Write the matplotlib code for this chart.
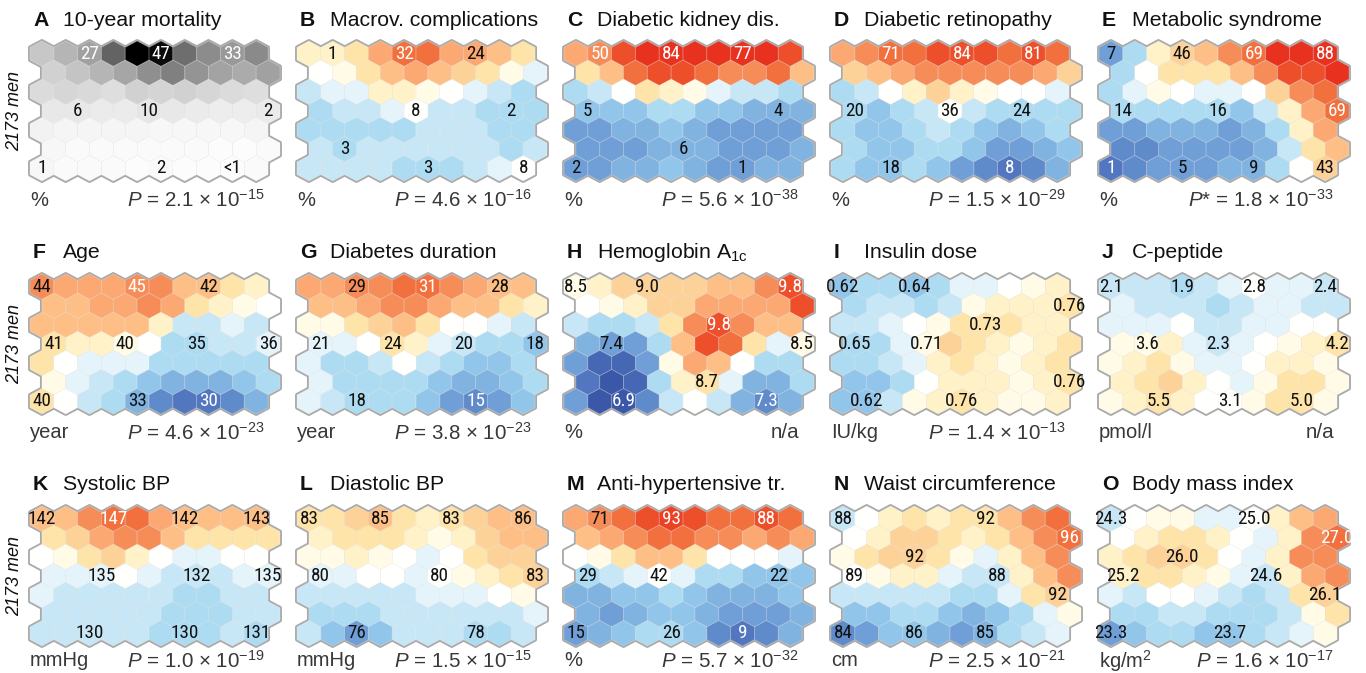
import numpy as np
import matplotlib
matplotlib.use("Agg")
import matplotlib.pyplot as plt
from matplotlib.collections import PolyCollection
from matplotlib.colors import LinearSegmentedColormap

# colour levels read per map node: 7 rows x 10 columns, odd rows shifted right
# -10 = deep blue, 0 = white, +10 = red ; mortality is grey 0 (white) .. 10 (black)
mortality = [
    [2.2, 2.9, 3.7, 6.1, 10, 9.6, 5.7, 4.5, 4.0, 4.6],
    [1.8, 2.3, 2.9, 3.5, 4.4, 5.0, 4.2, 3.6, 3.3, 3.7],
    [1.4, 1.6, 1.5, 1.3, 1.8, 1.7, 1.8, 1.6, 1.4, 1.3],
    [0.9, 0.9, 0.8, 0.8, 1.0, 0.9, 0.8, 0.7, 0.7, 0.8],
    [0.5, 0.4, 0.4, 0.4, 0.4, 0.3, 0.3, 0.3, 0.3, 0.4],
    [0.3, 0.2, 0.2, 0.2, 0.2, 0.2, 0.2, 0.1, 0.1, 0.2],
    [0.3, 0.2, 0.2, 0.2, 0.1, 0.2, 0.1, 0.1, 0.1, 0.2],
]
macrov = [
    [2, 2, 3, 6, 8, 8, 6, 6, 5, 3],
    [0, 1, 3, 5, 6, 5, 4, 3, 1, -1],
    [-2, -1, -1, 2, 2, 1, 0, -1, -2, -3],
    [-3, -2, -2, -1, 0, -2, -2, -3, -3, -3],
    [-3, -3, -3, -3, -3, -2, -2, -2, -3, -3],
    [-2, -3, -2, -2, -2, -2, -2, -2, -3, -2],
    [-2, -2, -2, -2, -3, -3, -3, -2, -1, 0],
]
kidney = [
    [6, 7, 9, 10, 10, 10, 10, 10, 10, 9],
    [3, 5, 8, 9, 9, 8, 7, 7, 8, 5],
    [-3, -2, 0, 3, 2, 1, -1, -2, -2, -3],
    [-4, -4, -4, -3, -3, -4, -4, -5, -5, -5],
    [-6, -6, -5, -5, -4, -5, -6, -6, -6, -6],
    [-6, -6, -6, -5, -5, -5, -6, -6, -6, -5],
    [-6, -6, -5, -5, -4, -5, -6, -6, -5, -5],
]
retino = [
    [6, 7, 8, 8, 9, 9, 9, 8, 9, 8],
    [4, 5, 6, 7, 7, 7, 7, 7, 6, 4],
    [-3, -2, 0, 2, 4, 2, 1, 0, 0, -1],
    [-3, -4, -3, -2, 0, -2, -3, -3, -3, -3],
    [-3, -4, -4, -3, -2, -3, -4, -5, -4, -3],
    [-3, -4, -4, -3, -3, -4, -6, -6, -5, -4],
    [-3, -4, -4, -3, -4, -6, -7, -8, -7, -5],
]
metsyn = [
    [-6, -3, 2, 4, 5, 7, 8, 10, 10, 10],
    [-3, 0, 3, 3, 3, 5, 7, 9, 9, 10],
    [-3, -1, 1, 0, -1, -1, 0, 4, 7, 8],
    [-3, -3, -3, -3, -3, -4, -2, 2, 6, 8],
    [-6, -6, -5, -5, -5, -6, -5, -3, 2, 6],
    [-7, -7, -6, -6, -6, -6, -5, -2, 3, 5],
    [-8, -7, -6, -6, -6, -5, -5, -3, 0, 4],
]
age = [
    [7, 6, 6, 6, 7, 7, 5, 5, 3, 2],
    [5, 5, 6, 6, 7, 6, 3, 2, 1, 0],
    [5, 5, 5, 5, 5, 2, -2, -2, -1, -2],
    [3, 2, 2, 1, 0, -3, -3, -2, -2, -1],
    [3, 0, -1, -1, -1, -3, -3, -3, -3, -3],
    [1, -1, -2, -3, -4, -5, -5, -5, -4, -3],
    [3, 0, -2, -3, -5, -7, -8, -8, -7, -5],
]
duration = [
    [6, 6, 7, 7, 8, 8, 7, 6, 5, 5],
    [5, 5, 6, 7, 7, 6, 5, 5, 3, 2],
    [1, 1, 3, 4, 5, 3, 0, 0, -1, -2],
    [-1, -1, 0, 3, 2, -1, -2, -3, -3, -4],
    [-1, -3, -3, -2, 0, -2, -3, -4, -4, -3],
    [-1, -3, -3, -3, -3, -4, -5, -5, -4, -3],
    [-1, -2, -3, -3, -3, -4, -6, -7, -6, -4],
]
hba1c = [
    [1, 2, 4, 4, 4, 4, 5, 5, 7, 9],
    [0, 1, 2, 4, 4, 6, 6, 6, 6, 9],
    [-2, -3, -3, -2, 3, 7, 9, 7, 5, 5],
    [-5, -6, -6, -3, 5, 9, 8, 3, -1, 1],
    [-6, -9, -9, -6, 1, 6, 5, 0, -3, -3],
    [-8, -10, -9, -3, 2, 3, -1, -5, -5, -3],
    [-6, -10, -10, -7, -2, 0, -2, -5, -7, -5],
]
insulin = [
    [-4, -3, -3, -4, -3, -1, -1, 0, 1, 2],
    [-3, -2, -2, -3, -2, 1, 2, 2, 2, 3],
    [-2, -2, -1, 0, 1, 3, 3, 3, 2, 2],
    [-3, -3, -1, 1, 4, 3, 2, 1, 2, 3],
    [-3, -3, -2, -1, 2, 3, 2, 1, 2, 3],
    [-4, -4, -3, 0, 2, 2, 2, 1, 2, 3],
    [-4, -4, -2, 1, 2, 3, 2, 1, 1, 2],
]
cpeptide = [
    [-2, -2, -2, -3, -2, -1, 0, -1, -1, -2],
    [-1, -2, -2, -2, -3, -2, -1, -1, -2, -2],
    [-1, -1, -1, 0, -2, -2, -1, -1, 0, 0],
    [1, 1, 2, -1, -2, -1, 0, 1, 2, 3],
    [1, 2, 3, 1, -1, -1, 0, 2, 2, 1],
    [2, 3, 4, 2, 0, -1, 1, 3, 3, 1],
    [1, 2, 3, 2, 0, 0, 1, 3, 3, 1],
]
sbp = [
    [5, 5, 7, 8, 8, 6, 5, 5, 5, 5],
    [3, 4, 6, 7, 7, 5, 3, 3, 3, 3],
    [0, 1, 3, 4, 2, 0, -1, -1, 0, 0],
    [-1, -1, -1, 0, -1, -2, -2, -2, -1, -1],
    [-1, -2, -2, -2, -2, -2, -3, -3, -2, -2],
    [-2, -2, -2, -2, -2, -3, -3, -3, -2, -2],
    [-2, -2, -2, -2, -2, -3, -3, -3, -2, -3],
]
dbp = [
    [3, 3, 4, 5, 3, 2, 3, 4, 5, 5],
    [2, 3, 3, 3, 2, 1, 2, 4, 5, 5],
    [1, 1, 2, 1, 0, -1, 0, 3, 4, 4],
    [-1, -1, 0, 0, -1, 0, 1, 2, 3, 4],
    [-2, -2, -2, -2, -2, -1, -1, -1, 0, 1],
    [-3, -3, -3, -2, -2, -2, -2, -2, -2, -1],
    [-2, -4, -6, -4, -2, -2, -2, -3, -3, -2],
]
antihyp = [
    [6, 7, 8, 9, 9.5, 9, 8, 8, 9, 8],
    [5, 6, 7, 8, 8, 7, 7, 6, 7, 6],
    [0, 1, 3, 5, 5, 3, 0, 0, 0, -1],
    [-3, -2, -1, 0, -1, -3, -3, -4, -4, -4],
    [-5, -5, -4, -4, -3, -4, -5, -5, -5, -4],
    [-5, -6, -5, -4, -4, -5, -6, -6, -6, -5],
    [-6, -5, -4, -3, -3, -4, -7, -8, -7, -5],
]
waist = [
    [-2, 0, 2, 3, 2, 3, 3, 5, 7, 8],
    [0, 2, 4, 4, 3, 2, 3, 5, 7, 8],
    [1, 3, 4, 4, 3, 1, -1, 2, 5, 7],
    [0, 1, 2, 2, -1, -2, -2, 2, 5, 7],
    [-2, -2, -2, -2, -2, -3, -3, -1, 3, 4],
    [-4, -4, -3, -3, -4, -5, -4, -3, -1, 1],
    [-7, -6, -4, -4, -5, -6, -5, -3, -2, -1],
]
bmi = [
    [-2, 0, 1, 1, -1, -1, 0, 2, 5, 6],
    [0, 2, 3, 3, 2, 0, -1, 2, 7, 8],
    [2, 3, 4, 4, 3, 0, -1, 2, 7, 7],
    [2, 3, 3, 2, 1, -1, -2, 2, 6, 7],
    [-1, -2, 0, 0, -1, -2, -3, -2, 3, 4],
    [-3, -3, -2, -2, -3, -3, -3, -2, 1, 3],
    [-6, -4, -3, -3, -4, -4, -3, -2, -1, 1],
]

letters = list("ABCDEFGHIJKLMNO")
titles = ["10-year mortality", "Macrov. complications", "Diabetic kidney dis.",
          "Diabetic retinopathy", "Metabolic syndrome", "Age", "Diabetes duration",
          r"Hemoglobin A$_{\rm 1c}$", "Insulin dose", "C-peptide", "Systolic BP",
          "Diastolic BP", "Anti-hypertensive tr.", "Waist circumference",
          "Body mass index"]
units = ["%", "%", "%", "%", "%", "year", "year", "%", "IU/kg", "pmol/l",
         "mmHg", "mmHg", "%", "cm", r"kg/m$^2$"]
pvalues = [r"$P$ = 2.1 × 10$^{-15}$", r"$P$ = 4.6 × 10$^{-16}$", r"$P$ = 5.6 × 10$^{-38}$",
           r"$P$ = 1.5 × 10$^{-29}$", r"$P$* = 1.8 × 10$^{-33}$", r"$P$ = 4.6 × 10$^{-23}$",
           r"$P$ = 3.8 × 10$^{-23}$", "n/a", r"$P$ = 1.4 × 10$^{-13}$", "n/a",
           r"$P$ = 1.0 × 10$^{-19}$", r"$P$ = 1.5 × 10$^{-15}$", r"$P$ = 5.7 × 10$^{-32}$",
           r"$P$ = 2.5 × 10$^{-21}$", r"$P$ = 1.6 × 10$^{-17}$"]
grids = [mortality, macrov, kidney, retino, metsyn, age, duration, hba1c,
         insulin, cpeptide, sbp, dbp, antihyp, waist, bmi]

# node labels: (row, col, text, white text)
labels = [
    [(0, 2, "27", 1), (0, 5, "47", 1), (0, 8, "33", 1), (3, 1, "6", 0), (3, 4, "10", 0),
     (3, 9, "2", 0), (6, 0, "1", 0), (6, 5, "2", 0), (6, 8, "<1", 0)],
    [(0, 1, "1", 0), (0, 4, "32", 1), (0, 7, "24", 0), (3, 4, "8", 0), (3, 8, "2", 0),
     (5, 1, "3", 0), (6, 5, "3", 0), (6, 9, "8", 0)],
    [(0, 1, "50", 1), (0, 4, "84", 1), (0, 7, "77", 1), (3, 0, "5", 0), (3, 8, "4", 0),
     (5, 4, "6", 0), (6, 0, "2", 0), (6, 7, "1", 0)],
    [(0, 2, "71", 1), (0, 5, "84", 1), (0, 8, "81", 1), (3, 0, "20", 0), (3, 4, "36", 0),
     (3, 7, "24", 0), (6, 2, "18", 0), (6, 7, "8", 1)],
    [(0, 0, "7", 0), (0, 3, "46", 0), (0, 6, "69", 1), (0, 9, "88", 1), (3, 0, "14", 0),
     (3, 4, "16", 0), (3, 9, "69", 1), (6, 0, "1", 1), (6, 3, "5", 0), (6, 6, "9", 0),
     (6, 9, "43", 0)],
    [(0, 0, "44", 0), (0, 4, "45", 1), (0, 7, "42", 0), (3, 0, "41", 0), (3, 3, "40", 0),
     (3, 6, "35", 0), (3, 9, "36", 0), (6, 0, "40", 0), (6, 4, "33", 0), (6, 7, "30", 1)],
    [(0, 2, "29", 0), (0, 5, "31", 1), (0, 8, "28", 0), (3, 0, "21", 0), (3, 3, "24", 0),
     (3, 6, "20", 0), (3, 9, "18", 0), (6, 2, "18", 0), (6, 7, "15", 1)],
    [(0, 0, "8.5", 0), (0, 3, "9.0", 0), (0, 9, "9.8", 1), (2, 6, "9.8", 1), (3, 1, "7.4", 0),
     (3, 9, "8.5", 0), (5, 5, "8.7", 0), (6, 2, "6.9", 1), (6, 8, "7.3", 1)],
    [(0, 0, "0.62", 0), (0, 3, "0.64", 0), (1, 9, "0.76", 0), (2, 6, "0.73", 0),
     (3, 0, "0.65", 0), (3, 3, "0.71", 0), (5, 9, "0.76", 0), (6, 1, "0.62", 0),
     (6, 5, "0.76", 0)],
    [(0, 0, "2.1", 0), (0, 3, "1.9", 0), (0, 6, "2.8", 0), (0, 9, "2.4", 0), (3, 1, "3.6", 0),
     (3, 4, "2.3", 0), (3, 9, "4.2", 0), (6, 2, "5.5", 0), (6, 5, "3.1", 0), (6, 8, "5.0", 0)],
    [(0, 0, "142", 0), (0, 3, "147", 1), (0, 6, "142", 0), (0, 9, "143", 0), (3, 2, "135", 0),
     (3, 6, "132", 0), (3, 9, "135", 0), (6, 2, "130", 0), (6, 6, "130", 0), (6, 9, "131", 0)],
    [(0, 0, "83", 0), (0, 3, "85", 0), (0, 6, "83", 0), (0, 9, "86", 0), (3, 0, "80", 0),
     (3, 5, "80", 0), (3, 9, "83", 0), (6, 2, "76", 0), (6, 7, "78", 0)],
    [(0, 1, "71", 0), (0, 4, "93", 1), (0, 8, "88", 1), (3, 0, "29", 0), (3, 3, "42", 0),
     (3, 8, "22", 0), (6, 0, "15", 0), (6, 4, "26", 0), (6, 7, "9", 1)],
    [(0, 0, "88", 0), (0, 6, "92", 0), (1, 9, "96", 1), (2, 3, "92", 0), (3, 0, "89", 0),
     (3, 6, "88", 0), (4, 9, "92", 0), (6, 0, "84", 0), (6, 3, "86", 0), (6, 6, "85", 0)],
    [(0, 0, "24.3", 0), (0, 6, "25.0", 0), (1, 9, "27.0", 1), (2, 3, "26.0", 0),
     (3, 0, "25.2", 0), (3, 6, "24.6", 0), (4, 9, "26.1", 0), (6, 0, "23.3", 0),
     (6, 5, "23.7", 0)],
]

div_colors = ["#3b58a8", "#5278c0", "#6f9fd6", "#93c6ea", "#acdbf2", "#c8e7f6", "#e4f4fa",
              "#ffffff", "#fffbe5", "#fff1c8", "#fee4a8", "#fdd39a", "#fdc086", "#fba872",
              "#f68e5a", "#f2703f", "#ee512c", "#e8321f"]
div_pos = [0, 0.1, 0.2, 0.3, 0.35, 0.4, 0.45, 0.5, 0.55, 0.6, 0.65, 0.7, 0.75, 0.8,
           0.85, 0.9, 0.95, 1.0]
cmap = LinearSegmentedColormap.from_list("som", list(zip(div_pos, div_colors)))

plt.rcParams["font.family"] = ["Liberation Sans", "DejaVu Sans"]
plt.rcParams["mathtext.fontset"] = "custom"
plt.rcParams["mathtext.rm"] = "Liberation Sans"
plt.rcParams["mathtext.it"] = "Liberation Sans:italic"
plt.rcParams["mathtext.bf"] = "Liberation Sans:bold"
label_font = ["Roboto Condensed", "Liberation Sans Narrow", "Liberation Sans"]

W, H = 1366, 673
fig = plt.figure(figsize=(W / 100, H / 100), dpi=100)

lefts = [30, 297, 564, 831, 1099]
tops = [41, 274, 506]
bw, bh = 250, 140
Ry = (bh / 11) / (bw / 10.5)
hexagon = np.array([[0, Ry], [0.5, Ry / 2], [0.5, -Ry / 2], [0, -Ry],
                    [-0.5, -Ry / 2], [-0.5, Ry / 2]])


def fx(x):
    return x / W


def fy(y):
    return 1 - y / H


for k in range(15):
    x0 = lefts[k % 5]
    y0 = tops[k // 5]
    ax = fig.add_axes([fx(x0), fy(y0 + bh), bw / W, bh / H])
    ax.set_xlim(-0.5, 10.0)
    ax.set_ylim(-(9 * Ry + Ry), Ry)
    ax.axis("off")

    vals = np.array(grids[k], dtype=float)
    polys = []
    cols = []
    for r in range(7):
        for c in range(10):
            cx = c + 0.5 * (r % 2)
            cy = -r * 1.5 * Ry
            polys.append(hexagon + [cx, cy])
            if k == 0:
                g = 1 - vals[r, c] / 10
                cols.append((g, g, g, 1))
            else:
                cols.append(cmap((vals[r, c] + 10) / 20))

    outline = PolyCollection(polys, facecolors="#a9a9a9", edgecolors="#a9a9a9",
                             linewidths=2.8, clip_on=False, zorder=1)
    ax.add_collection(outline)
    fill = PolyCollection(polys, facecolors=cols, edgecolors=(1, 1, 1, 0.25),
                          linewidths=0.6, clip_on=False, zorder=2)
    ax.add_collection(fill)

    for r, c, txt, white in labels[k]:
        ax.text(c + 0.5 * (r % 2), -r * 1.5 * Ry, txt, ha="center", va="center",
                fontsize=13.8, family=label_font,
                color="white" if white else "#111111", zorder=3)

    ty = y0 - 21
    fig.text(fx(x0 + 3), fy(ty), letters[k], ha="left", va="center",
             fontsize=15.3, fontweight="bold", color="#111111")
    fig.text(fx(x0 + 33), fy(ty), titles[k], ha="left", va="center",
             fontsize=15.3, color="#111111")
    uy = y0 + bh + (15 if k >= 10 else 19)
    fig.text(fx(x0), fy(uy), units[k], ha="left", va="center",
             fontsize=14.5, color="#383838")
    fig.text(fx(x0 + 235), fy(uy), pvalues[k], ha="right", va="center",
             fontsize=14.8, color="#383838")

    if k % 5 == 0:
        fig.text(fx(15), fy(y0 + bh / 2), "2173 men", rotation=90, ha="center",
                 va="center", fontsize=13, style="italic", color="#111111")

fig.savefig("out.png", dpi=100)
